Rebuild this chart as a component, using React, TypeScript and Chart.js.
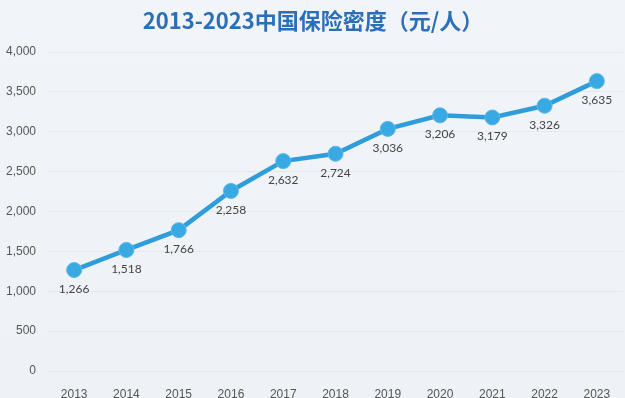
import React, { useEffect, useRef } from "react";
import { Chart, registerables } from "chart.js";

Chart.register(...registerables);

const title = "2013-2023中国保险密度（元/人）";
const years = ["2013", "2014", "2015", "2016", "2017", "2018", "2019", "2020", "2021", "2022", "2023"];
const density = [1266, 1518, 1766, 2258, 2632, 2724, 3036, 3206, 3179, 3326, 3635];

const titlePlugin = {
  id: "customTitle",
  beforeDraw(chart: any) {
    const ctx = chart.ctx;
    ctx.save();
    const g = ctx.createLinearGradient(0, 0, 0, chart.height);
    g.addColorStop(0, "#f1f4f8");
    g.addColorStop(1, "#eef1f5");
    ctx.fillStyle = g;
    ctx.fillRect(0, 0, chart.width, chart.height);
    ctx.restore();
  },
  afterDraw(chart: any) {
    const ctx = chart.ctx;
    ctx.save();
    ctx.font = "bold 22px 'Noto Sans CJK SC', sans-serif";
    ctx.fillStyle = "#2a6fb8";
    ctx.textAlign = "center";
    ctx.textBaseline = "middle";
    ctx.fillText(title, 313, 21);
    ctx.restore();
  },
};

const labelPlugin = {
  id: "pointLabels",
  afterDatasetsDraw(chart: any) {
    const ctx = chart.ctx;
    const meta = chart.getDatasetMeta(0);
    ctx.save();
    ctx.font = "12px Lato, 'Open Sans', sans-serif";
    ctx.fillStyle = "#444";
    ctx.textAlign = "center";
    ctx.textBaseline = "middle";
    meta.data.forEach((pt: any, i: number) => {
      const v = chart.data.datasets[0].data[i] as number;
      ctx.fillText(v.toLocaleString("en-US"), pt.x, pt.y + 19);
    });
    ctx.restore();
  },
};

export default function App() {
  const ref = useRef<HTMLCanvasElement>(null);
  useEffect(() => {
    document.body.style.margin = "0";
    const chart = new Chart(ref.current!, {
      type: "line",
      data: {
        labels: years,
        datasets: [
          {
            data: density,
            borderColor: "#2f9dd9",
            borderWidth: 4.5,
            pointRadius: 7.5,
            pointBackgroundColor: "#38a9e3",
            pointBorderColor: "#5bb9ea",
            pointBorderWidth: 1,
            tension: 0,
          },
        ],
      },
      options: {
        responsive: false,
        animation: false,
        layout: { autoPadding: false, padding: { top: 52, right: 2, left: 0, bottom: 0 } },
        plugins: { legend: { display: false }, tooltip: { enabled: false }, title: { display: false } },
        scales: {
          x: {
            offset: true,
            grid: { display: false },
            border: { display: false },
            ticks: { color: "#555", font: { family: "'Liberation Sans', Arial", size: 12 }, padding: 8 },
            afterFit(scale: any) {
              scale.height = 27;
              scale.paddingLeft = 0;
              scale.paddingRight = 0;
            },
          },
          y: {
            min: 0,
            max: 4000,
            ticks: {
              stepSize: 500,
              color: "#555",
              font: { family: "'Liberation Sans', Arial", size: 12 },
              padding: 12,
              callback: (v: any) => Number(v).toLocaleString("en-US"),
            },
            grid: { color: "rgba(0,0,0,0.045)", drawTicks: false },
            border: { display: false },
            afterFit(scale: any) {
              scale.width = 48;
            },
          },
        },
      },
      plugins: [titlePlugin, labelPlugin],
    });
    return () => chart.destroy();
  }, []);
  return (
    <div style={{ width: 625, height: 398 }}>
      <canvas ref={ref} width={625} height={398} />
    </div>
  );
}
